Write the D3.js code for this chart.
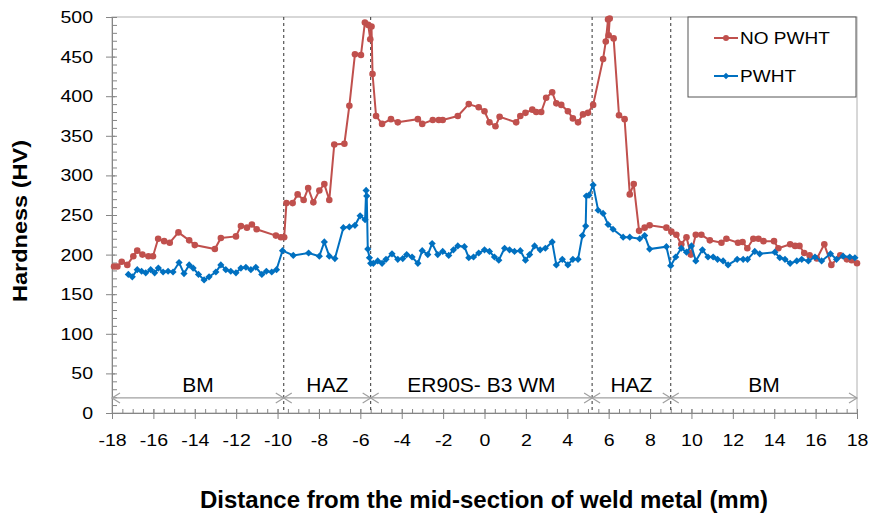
<!DOCTYPE html>
<html>
<head>
<meta charset="utf-8">
<script src="https://cdn.jsdelivr.net/npm/d3@7"></script>
<style>
  body { margin: 0; background: #fff; }
  svg, svg text { font-family: "Liberation Sans", Arial, sans-serif; }
</style>
</head>
<body>
<svg id="chart" width="870" height="516"></svg>
<script>
// hardness profile, [distance mm, HV]
const noPwht = [
  [-17.9, 185], [-17.74, 185], [-17.53, 191], [-17.26, 187], [-16.97, 198], [-16.78, 205],
  [-16.53, 200], [-16.24, 198], [-16.02, 198], [-15.77, 220], [-15.48, 217], [-15.21, 215],
  [-14.79, 228], [-14.27, 218], [-14.0, 212], [-13.03, 207], [-12.74, 221], [-12.01, 223],
  [-11.77, 236], [-11.48, 234], [-11.24, 238], [-11.01, 232], [-10.08, 224], [-9.84, 222],
  [-9.68, 222], [-9.57, 265], [-9.27, 265], [-9.03, 276], [-8.74, 269], [-8.52, 284],
  [-8.27, 266], [-7.98, 281], [-7.74, 289], [-7.5, 269], [-7.26, 339], [-6.77, 340],
  [-6.53, 388], [-6.26, 453], [-5.97, 452], [-5.78, 493], [-5.62, 490], [-5.52, 472],
  [-5.46, 488], [-5.41, 428], [-5.24, 375], [-4.95, 365], [-4.52, 371], [-4.19, 367],
  [-3.22, 371], [-3.01, 365], [-2.5, 370], [-2.21, 370], [-2.02, 370], [-1.29, 375],
  [-0.76, 390], [-0.28, 386], [0.0, 381], [0.24, 367], [0.53, 362], [0.73, 374],
  [1.53, 367], [1.73, 375], [1.98, 379], [2.31, 383], [2.5, 380], [2.74, 380],
  [2.98, 398], [3.27, 405], [3.47, 391], [3.71, 389], [4.03, 381], [4.27, 372],
  [4.52, 367], [4.76, 377], [5.0, 379], [5.25, 389], [5.73, 447], [5.86, 469],
  [5.97, 497], [6.05, 498], [6.0, 477], [6.24, 473], [6.5, 376], [6.77, 371],
  [7.02, 276], [7.21, 289], [7.47, 230], [7.74, 234], [7.98, 237], [8.79, 234],
  [9.03, 229], [9.27, 225], [9.51, 213], [9.76, 222], [9.97, 200], [10.21, 225],
  [10.48, 225], [10.89, 218], [11.45, 215], [11.69, 220], [12.25, 215], [12.47, 216],
  [12.7, 208], [12.99, 220], [13.24, 220], [13.48, 217], [13.99, 217], [14.2, 208],
  [14.77, 213], [15.01, 211], [15.22, 211], [15.45, 202], [15.71, 199], [16.06, 195],
  [16.42, 213], [16.76, 187], [17.19, 199], [17.51, 194], [17.74, 193], [18.0, 189]
];

const pwht = [
  [-17.21, 175], [-17.02, 172], [-16.78, 181], [-16.57, 179], [-16.37, 177], [-16.13, 181],
  [-15.94, 177], [-15.76, 183], [-15.53, 178], [-15.29, 179], [-15.05, 178], [-14.76, 190],
  [-14.52, 176], [-14.27, 187], [-14.08, 183], [-13.82, 175], [-13.55, 168], [-13.31, 172],
  [-12.98, 178], [-12.74, 187], [-12.5, 181], [-12.26, 179], [-12.01, 177], [-11.77, 183],
  [-11.53, 184], [-11.29, 181], [-11.05, 184], [-10.76, 175], [-10.54, 179], [-10.28, 178],
  [-10.05, 181], [-9.76, 205], [-9.24, 199], [-8.5, 202], [-7.98, 198], [-7.74, 216],
  [-7.5, 198], [-7.23, 195], [-6.82, 234], [-6.53, 235], [-6.26, 237], [-6.01, 249],
  [-5.77, 244], [-5.72, 281], [-5.69, 274], [-5.64, 207], [-5.56, 196], [-5.5, 189],
  [-5.37, 189], [-5.16, 192], [-4.95, 189], [-4.76, 194], [-4.47, 201], [-4.19, 194],
  [-3.95, 195], [-3.76, 200], [-3.5, 197], [-3.22, 189], [-3.01, 205], [-2.74, 200],
  [-2.53, 214], [-2.26, 200], [-2.02, 204], [-1.73, 199], [-1.5, 206], [-1.29, 211],
  [-0.97, 210], [-0.76, 196], [-0.53, 197], [-0.28, 202], [0.0, 206], [0.24, 204],
  [0.48, 197], [0.69, 193], [0.97, 208], [1.21, 206], [1.45, 204], [1.73, 205],
  [1.98, 193], [2.18, 200], [2.42, 211], [2.69, 206], [2.94, 208], [3.27, 216],
  [3.47, 187], [3.76, 194], [4.03, 187], [4.27, 194], [4.52, 194], [4.73, 224],
  [4.89, 236], [4.92, 274], [5.05, 275], [5.25, 288], [5.49, 256], [5.73, 252],
  [5.97, 238], [6.21, 232], [6.7, 222], [7.02, 222], [7.5, 220], [7.74, 224],
  [7.98, 207], [8.79, 210], [9.0, 186], [9.24, 197], [9.51, 208], [9.76, 203],
  [10.0, 211], [10.21, 192], [10.53, 206], [10.8, 197], [11.05, 197], [11.26, 194],
  [11.53, 192], [11.77, 187], [12.21, 194], [12.5, 194], [12.71, 194], [13.06, 204],
  [13.3, 201], [14.03, 203], [14.27, 196], [14.52, 194], [14.77, 189], [15.09, 192],
  [15.33, 194], [15.65, 192], [15.97, 197], [16.29, 192], [16.72, 201], [17.01, 194],
  [17.33, 198], [17.65, 197], [17.9, 196]
];

const xTicks = d3.range(-18, 19, 2);
const yTicks = d3.range(0, 501, 50);
const zoneBounds = [-18, -9.7, -5.5, 5.2, 9.0, 18];
const zoneNames = ["BM", "HAZ", "ER90S- B3 WM", "HAZ", "BM"];
const seriesNames = ["NO PWHT", "PWHT"];

const margin = { left: 112, right: 13, top: 17, bottom: 103 };
const svg = d3.select('#chart');
const width = +svg.attr('width');
const height = +svg.attr('height');
const innerWidth = width - margin.left - margin.right;
const innerHeight = height - margin.top - margin.bottom;

const x = d3.scaleLinear().domain([-18, 18]).range([0, innerWidth]);
const y = d3.scaleLinear().domain([0, 500]).range([innerHeight, 0]);

// the text in the original is a bit wider than Arial
const stretch = 1.15;

const g = svg.append('g')
  .attr('transform', `translate(${margin.left},${margin.top})`);

// plot area border
g.append('rect')
  .attr('width', innerWidth).attr('height', innerHeight)
  .attr('fill', 'none').attr('stroke', '#b0b0b0');

const axisColor = '#868686';

// y axis with minor ticks
const yMinor = g.append('g').call(d3.axisLeft(y).tickValues(d3.range(0, 501, 10)).tickSize(1).tickFormat(''));
yMinor.selectAll('.tick line').attr('x2', 5);
const yAxis = g.append('g').call(d3.axisLeft(y).tickValues(yTicks).tickSize(6).tickFormat(d => String(d)));
yAxis.selectAll('.tick line').attr('x1', 3);
yAxis.selectAll('.tick text')
  .attr('x', -19 / stretch)
  .attr('transform', `scale(${stretch},1)`);

const xMinor = g.append('g').attr('transform', `translate(0,${innerHeight})`)
  .call(d3.axisBottom(x).tickValues(d3.range(-18, 18.1, 0.5)).tickSize(0).tickFormat(''));
xMinor.selectAll('.tick line').attr('y1', -4).attr('y2', 0);
const xAxis = g.append('g').attr('transform', `translate(0,${innerHeight})`)
  .call(d3.axisBottom(x).tickValues(xTicks).tickSize(6).tickPadding(15).tickFormat(d => String(d)));
xAxis.selectAll('.tick line').attr('y1', -4);
xAxis.selectAll('.tick text').attr('transform', `scale(${stretch},1)`);

[yMinor, yAxis, xMinor, xAxis].forEach(a => {
  a.attr('font-family', null);
  a.selectAll('.domain').attr('stroke', axisColor);
  a.selectAll('.tick line').attr('stroke', axisColor);
  a.selectAll('text').attr('fill', '#000').style('font-size', '17px');
});

// zone boundaries
g.selectAll('.zone-line').data(zoneBounds.slice(1, -1))
  .enter().append('line')
  .attr('x1', d => x(d)).attr('x2', d => x(d))
  .attr('y1', 0).attr('y2', innerHeight)
  .attr('stroke', '#333').attr('stroke-dasharray', '3,3');

// zone arrows and labels
const arrowY = y(19);
const zoneG = g.append('g');
zoneNames.forEach((name, i) => {
  const x0 = x(zoneBounds[i]), x1 = x(zoneBounds[i + 1]);
  zoneG.append('line')
    .attr('x1', x0).attr('x2', x1).attr('y1', arrowY).attr('y2', arrowY)
    .attr('stroke', '#a0a0a0').attr('stroke-width', 1.2);
  [[x0, 1], [x1, -1]].forEach(([ax, dir]) => {
    zoneG.append('path')
      .attr('d', `M${ax + dir * 8},${arrowY - 5}L${ax},${arrowY}L${ax + dir * 8},${arrowY + 5}`)
      .attr('fill', 'none').attr('stroke', '#a0a0a0').attr('stroke-width', 1.2);
  });
  const k = 1.05;
  zoneG.append('text')
    .attr('transform', `translate(${(x0 + x1) / 2},${y(26)}) scale(${k},1)`)
    .attr('text-anchor', 'middle')
    .style('font-size', '20px')
    .text(name);
});

// series
const colors = ['#C0504D', '#0070C0'];
const line = d3.line().x(d => x(d[0])).y(d => y(d[1]));
const diamond = s => `M0,${-s}L${s},0L0,${s}L${-s},0Z`;

function drawSeries(data, color, marker) {
  g.append('path').datum(data)
    .attr('d', line)
    .attr('fill', 'none').attr('stroke', color).attr('stroke-width', 2);
  const pts = g.append('g').selectAll('path').data(data).enter();
  if (marker === 'circle') {
    pts.append('circle')
      .attr('cx', d => x(d[0])).attr('cy', d => y(d[1])).attr('r', 3.3)
      .attr('fill', color);
  } else {
    pts.append('path')
      .attr('transform', d => `translate(${x(d[0])},${y(d[1])})`)
      .attr('d', diamond(3.6))
      .attr('fill', color);
  }
}
drawSeries(noPwht, colors[0], 'circle');
drawSeries(pwht, colors[1], 'diamond');

// legend
const lg = svg.append('g').attr('transform', 'translate(688,17)');
lg.append('rect').attr('width', 168).attr('height', 80)
  .attr('fill', '#fff').attr('stroke', '#555');
seriesNames.forEach((name, i) => {
  const ly = 21 + i * 38;
  lg.append('line').attr('x1', 26).attr('x2', 50).attr('y1', ly).attr('y2', ly)
    .attr('stroke', colors[i]).attr('stroke-width', 2);
  if (i === 0) {
    lg.append('circle').attr('cx', 38).attr('cy', ly).attr('r', 3).attr('fill', colors[i]);
  } else {
    lg.append('path').attr('transform', `translate(38,${ly})`).attr('d', diamond(3.3)).attr('fill', colors[i]);
  }
  lg.append('text').attr('transform', `translate(52,${ly + 6}) scale(1.12,1)`)
    .style('font-size', '17px').text(name);
});

// axis titles
svg.append('text')
  .attr('transform', `translate(27,221) rotate(-90)`)
  .attr('text-anchor', 'middle')
  .attr('textLength', 162).attr('lengthAdjust', 'spacingAndGlyphs')
  .style('font-size', '20px').style('font-weight', 'bold')
  .text('Hardness (HV)');
svg.append('text')
  .attr('x', 484).attr('y', 508)
  .attr('text-anchor', 'middle')
  .style('font-size', '24px').style('font-weight', 'bold')
  .text('Distance from the mid-section of weld metal (mm)');
</script>
</body>
</html>
